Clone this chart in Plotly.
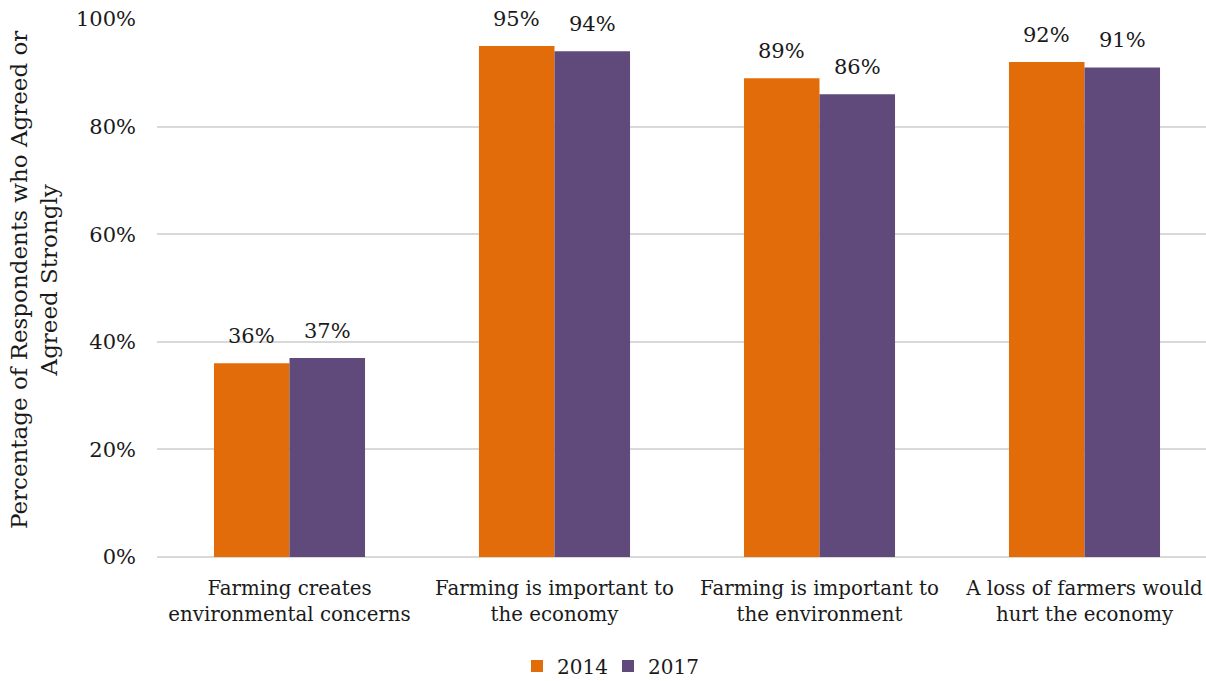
import plotly.graph_objects as go

# Survey statements and the share agreeing, by survey year (percent)
categories = [
    "Farming creates<br>environmental concerns",
    "Farming is important to<br>the economy",
    "Farming is important to<br>the environment",
    "A loss of farmers would<br>hurt the economy",
]
years = ["2014", "2017"]
values_2014 = [36, 95, 89, 92]
values_2017 = [37, 94, 86, 91]
y_ticks = [0, 20, 40, 60, 80, 100]
y_tick_labels = ["0%", "20%", "40%", "60%", "80%", "100%"]

colors = {"2014": "#E36C0A", "2017": "#604A7B"}
FONT = "DejaVu Serif"
TEXT = "#1a1a1a"
BARGAP = 0.43
CAT_PX = 265  # width of one category slot in pixels

fig = go.Figure()
for year, vals in zip(years, [values_2014, values_2017]):
    fig.add_trace(go.Bar(
        x=categories,
        y=vals,
        name=year,
        marker=dict(color=colors[year], line=dict(width=0)),
        cliponaxis=False,
    ))

# value labels above each bar, placed at the centre of its slot in the group
slot = (1 - BARGAP) / len(years)
labels = []
for k, vals in enumerate([values_2014, values_2017]):
    offset = (k - (len(years) - 1) / 2) * slot
    for i, v in enumerate(vals):
        labels.append(dict(
            x=i + offset, y=v, xref="x", yref="y",
            text=f"{v}%", showarrow=False,
            xanchor="center", yanchor="bottom", yshift=13,
            font=dict(family=FONT, size=21, color=TEXT),
        ))

L, R, T, B = 157, 0, 19, 124
W, H = 1206, 681
plot_w = W - L - R
plot_h = H - T - B

fig.update_layout(
    width=W, height=H,
    margin=dict(l=L, r=R, t=T, b=B, autoexpand=False),
    paper_bgcolor="white",
    plot_bgcolor="white",
    barmode="group",
    bargap=BARGAP,
    bargroupgap=0,
    font=dict(family=FONT, size=20, color=TEXT),
    showlegend=True,
    legend=dict(
        orientation="h",
        x=(608 - L) / plot_w, xanchor="center",
        y=-(666 - (H - B)) / plot_h, yanchor="middle",
        font=dict(family=FONT, size=20, color=TEXT),
        itemwidth=30,
        entrywidth=46,
        traceorder="normal",
    ),
    xaxis=dict(
        type="category",
        range=[-0.5, -0.5 + plot_w / CAT_PX],
        showgrid=False,
        showline=False,
        ticks="",
        tickfont=dict(family=FONT, size=19.8, color=TEXT),
        ticklabelstandoff=17,
    ),
    yaxis=dict(
        range=[0, 100],
        tickvals=y_ticks,
        ticktext=y_tick_labels,
        showgrid=True,
        gridcolor="#D9D9D9",
        gridwidth=1.5,
        zeroline=True,
        zerolinecolor="#D9D9D9",
        zerolinewidth=1.5,
        showline=False,
        ticks="",
        tickfont=dict(family=FONT, size=21, color=TEXT),
        ticklabelstandoff=20,
    ),
    annotations=labels + [dict(
        text="Percentage of Respondents who Agreed or<br>Agreed Strongly",
        textangle=-90,
        xref="paper", yref="paper",
        x=(34 - L) / plot_w, y=(557 - 280) / plot_h,
        xanchor="center", yanchor="middle",
        showarrow=False,
        font=dict(family=FONT, size=23, color=TEXT),
    )],
)

fig.write_html("out.html")
